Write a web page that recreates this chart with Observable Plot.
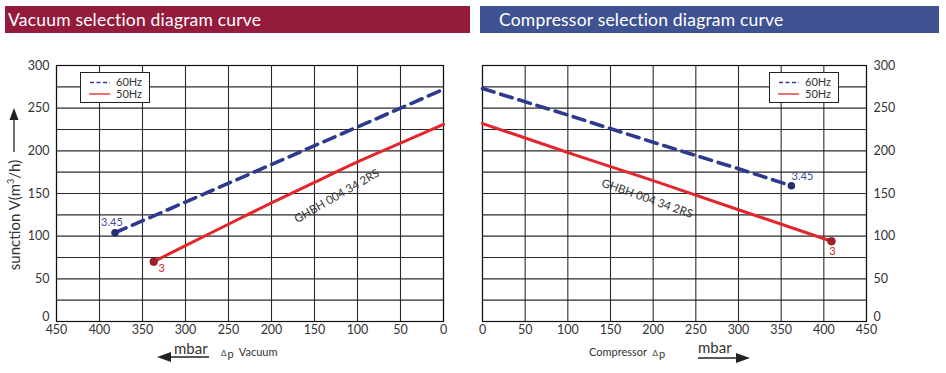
<!DOCTYPE html>
<html>
<head>
<meta charset="utf-8">
<script src="https://cdn.jsdelivr.net/npm/d3@7"></script>
<script src="https://cdn.jsdelivr.net/npm/@observablehq/plot@0.6"></script>
<style>
  html, body { margin: 0; padding: 0; background: #fff; }
  body { width: 946px; height: 373px; position: relative; overflow: hidden; font-family: Lato, "Open Sans", sans-serif; color: #333; }
  .abs { position: absolute; }
  .hdr { position: absolute; top: 6px; height: 27px; color: #fff; font-size: 17.5px; line-height: 27px; white-space: nowrap; letter-spacing: 0.2px; }
  .legend { position: absolute; width: 68px; height: 29px; border: 1px solid #222; background: #fff; font-size: 11px; color: #333; }
  .legend .row { position: absolute; left: 0; width: 68px; height: 12px; line-height: 12px; }
  .legend svg { position: absolute; left: 7px; top: 0; }
  .legend span { position: absolute; left: 35px; top: 0; }
  .mbar { position: absolute; font-size: 15px; line-height: 14px; color: #333; }
</style>
</head>
<body>
<script>
// ---- Data ----
const xTicksVac = [450, 400, 350, 300, 250, 200, 150, 100, 50, 0];
const xTicksComp = [0, 50, 100, 150, 200, 250, 300, 350, 400, 450];
const yTicks = [50, 100, 150, 200, 250, 300];
const yTickZero = [0];
const yGrid = [0, 25, 50, 75, 100, 125, 150, 175, 200, 225, 250, 275, 300];

// Vacuum (left)
const vacX60 = [382, 300, 200, 100, 0];
const vacY60 = [104, 140, 184, 228, 272];
const vacX50 = [337, 300, 250, 200, 150, 100, 50, 0];
const vacY50 = [70, 89, 114, 139, 163, 187, 209, 231];

// Compressor (right)
const compX60 = [0, 100, 200, 300, 362];
const compY60 = [273, 242, 210, 179, 159];
const compX50 = [0, 100, 200, 300, 409];
const compY50 = [232, 198, 165, 131, 94];

const modelName = "GHBH 004 34 2RS";
const endLabels60 = "3.45";
const endLabels50 = "3";

const blue = "#2e3a8f", red = "#e3262d", blueDot = "#262f70", redDot = "#a51e2b";

const toRows = (xs, ys) => xs.map((x, i) => ({x, y: ys[i]}));

function chart({xDomain, xTicks, yAxis, width, marginLeft, marginRight, s60, s50, end60, end50, lbl60, lbl50, model}) {
  return Plot.plot({
    width, height: 300,
    marginLeft, marginRight, marginTop: 10, marginBottom: 34,
    style: {fontFamily: "Lato, 'Open Sans', sans-serif", fontSize: "12.5px", color: "#333", background: "transparent"},
    x: {domain: xDomain, label: null},
    y: {domain: [0, 300], label: null},
    marks: [
      Plot.ruleX(xTicks, {stroke: "#2a2a2a", strokeWidth: 1.1}),
      Plot.ruleY(yGrid, {stroke: "#2a2a2a", strokeWidth: 1.1}),
      Plot.frame({stroke: "#111", strokeWidth: 1.2}),
      Plot.axisX({ticks: xTicks, tickSize: 0, tickPadding: 4, label: null, fill: "#333"}),
      Plot.axisY({anchor: yAxis, ticks: yTicks, tickSize: 0, tickPadding: 7, label: null, fill: "#333"}),
      Plot.axisY({anchor: yAxis, ticks: yTickZero, tickSize: 0, tickPadding: 7, dy: -5, label: null, fill: "#333"}),
      Plot.line(s60, {x: "x", y: "y", stroke: blue, strokeWidth: 3.6, strokeDasharray: "12,7"}),
      Plot.line(s50, {x: "x", y: "y", stroke: red, strokeWidth: 3, curve: "natural"}),
      Plot.dot([end60], {x: "x", y: "y", r: 3.8, fill: blueDot}),
      Plot.dot([end50], {x: "x", y: "y", r: 3.8, fill: redDot, stroke: "#7a1420", strokeWidth: 0.8}),
      Plot.text([end60], {x: "x", y: "y", text: () => endLabels60, dx: lbl60[0], dy: lbl60[1], fill: "#3d4a9c", fontSize: 11}),
      Plot.text([end50], {x: "x", y: "y", text: () => endLabels50, dx: lbl50[0], dy: lbl50[1], fill: "#d3282f", fontSize: 11}),
      Plot.text([model], {x: "x", y: "y", text: () => modelName, rotate: model.rotate, fill: "#333", fontSize: 11.5})
    ]
  });
}

const vac60 = toRows(vacX60, vacY60), vac50 = toRows(vacX50, vacY50);
const comp60 = toRows(compX60, compY60), comp50 = toRows(compX50, compY50);

const left = chart({
  xDomain: [450, 0], xTicks: xTicksVac, yAxis: "left", width: 470, marginLeft: 56, marginRight: 27,
  s60: vac60, s50: vac50, end60: vac60[0], end50: vac50[0],
  lbl60: [-3, -10], lbl50: [8, 7],
  model: {x: 124, y: 147, rotate: -30}
});
left.style.position = "absolute"; left.style.left = "0px"; left.style.top = "55px";
document.body.appendChild(left);

const right = chart({
  xDomain: [0, 450], xTicks: xTicksComp, yAxis: "right", width: 476, marginLeft: 12, marginRight: 80,
  s60: comp60, s50: comp50, end60: comp60[comp60.length - 1], end50: comp50[comp50.length - 1],
  lbl60: [11, -9], lbl50: [1, 10],
  model: {x: 193, y: 144, rotate: 19.5}
});
right.style.position = "absolute"; right.style.left = "470px"; right.style.top = "55px";
document.body.appendChild(right);

// ---- Headers, legends, axis titles (HTML) ----
function el(html) { const d = document.createElement("div"); d.innerHTML = html; while (d.firstChild) document.body.appendChild(d.firstChild); }

el(`<div class="hdr" style="left:5px;width:465px;background:#951b3c;padding-left:3px;box-sizing:border-box;">Vacuum selection diagram curve</div>`);
el(`<div class="hdr" style="left:480px;width:459px;background:#3f5393;padding-left:19px;box-sizing:border-box;">Compressor selection diagram curve</div>`);

function legendHTML(left) {
  return `<div class="legend" style="left:${left}px;top:72px;">
    <div class="row" style="top:3px;"><svg width="24" height="12"><line x1="2" x2="22" y1="6.5" y2="6.5" stroke="${blue}" stroke-width="1.3" stroke-dasharray="4,2.5"/></svg><span>60Hz</span></div>
    <div class="row" style="top:15px;"><svg width="24" height="12"><line x1="1" x2="22" y1="6" y2="6" stroke="${red}" stroke-width="1.3"/></svg><span>50Hz</span></div>
  </div>`;
}
el(legendHTML(80));
el(legendHTML(769));

// Y-axis title with arrow
el(`<div class="abs" style="left:14px;top:215px;width:0;height:0;"><div style="position:absolute;transform:translate(-50%,-50%) rotate(-90deg);white-space:nowrap;font-size:15px;color:#333;">sunction V(m<sup style="font-size:9px;">3</sup>/h)</div></div>`);
el(`<svg class="abs" style="left:6px;top:108px;" width="16" height="46"><line x1="8" x2="8" y1="10" y2="44" stroke="#222" stroke-width="1.3"/><polygon points="8,0 3.5,12 12.5,12" fill="#222"/></svg>`);

// Bottom left: mbar arrow + Δp Vacuum
el(`<div class="mbar" style="left:174px;top:341px;">mbar</div>`);
el(`<svg class="abs" style="left:157px;top:350px;" width="54" height="14"><line x1="10" x2="52" y1="7" y2="7" stroke="#222" stroke-width="1.3"/><polygon points="0,7 14,2 14,12" fill="#222"/></svg>`);
el(`<div class="abs" style="left:221px;top:345px;font-size:11px;color:#333;white-space:nowrap;"><span style="font-size:8px;">Δ</span><span style="position:relative;top:2px;margin-left:1px;">p</span>&nbsp; Vacuum</div>`);

// Bottom right: Compressor Δp + mbar arrow
el(`<div class="abs" style="left:589px;top:345px;font-size:11px;color:#333;white-space:nowrap;">Compressor&nbsp; <span style="font-size:8px;">Δ</span><span style="position:relative;top:2px;margin-left:1px;">p</span></div>`);
el(`<div class="mbar" style="left:698px;top:340px;">mbar</div>`);
el(`<svg class="abs" style="left:696px;top:351px;" width="54" height="14"><line x1="2" x2="44" y1="7" y2="7" stroke="#222" stroke-width="1.3"/><polygon points="54,7 40,2 40,12" fill="#222"/></svg>`);
</script>
</body>
</html>
